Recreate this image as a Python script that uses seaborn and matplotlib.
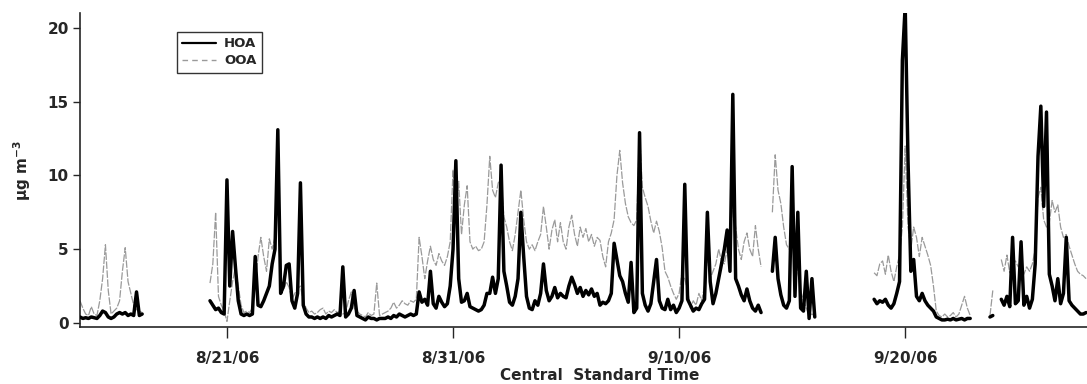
import numpy as np
import pandas as pd
import matplotlib
matplotlib.use("Agg")
import matplotlib.pyplot as plt
from matplotlib.lines import Line2D
import seaborn as sns

nan = np.nan

# 3-hourly organic aerosol factor concentrations (ug m-3), one block per run of data
start_aug14 = "2006-08-14 12:00"
hoa_aug14 = [0.4, 0.3, 0.35, 0.3, 0.4, 0.35, 0.3, 0.5, 0.8, 0.7, 0.4, 0.3,
             0.4, 0.6, 0.7, 0.6, 0.7, 0.5, 0.6, 0.5, 2.1, 0.5, 0.6]
ooa_aug14 = [1.5, 1.0, 0.6, 0.5, 1.1, 0.6, 0.5, 1.5, 3.0, 5.3, 2.2, 0.6,
             0.8, 1.0, 1.5, 3.5, 5.1, 2.8, 2.0, 1.2, 0.9, 0.8, 0.7]

start_aug20 = "2006-08-20 06:00"
hoa_aug20 = [
    1.5, 1.2, 0.9, 1.0, 0.7, 0.6,                # 8/20
    9.7, 2.5, 6.2, 3.8, 1.5, 0.6, 0.5, 0.6,      # 8/21
    0.5, 0.6, 4.5, 1.2, 1.1, 1.5, 2.0, 2.5,      # 8/22
    4.0, 5.0, 13.1, 2.0, 2.5, 3.9, 4.0, 1.5,     # 8/23
    1.0, 2.0, 9.5, 1.2, 0.6, 0.4, 0.4, 0.3,      # 8/24
    0.4, 0.3, 0.4, 0.3, 0.5, 0.4, 0.5, 0.6,      # 8/25
    0.5, 3.8, 0.4, 0.6, 1.0, 2.2, 0.5, 0.4,      # 8/26
    0.3, 0.2, 0.4, 0.3, 0.3, 0.2, 0.3, 0.3,      # 8/27
    0.3, 0.4, 0.3, 0.5, 0.4, 0.6, 0.5, 0.4,      # 8/28
    0.5, 0.6, 0.5, 0.6, 2.1, 1.4, 1.6, 1.2,      # 8/29
    3.5, 1.3, 1.0, 1.8, 1.4, 1.1, 1.3, 2.5,      # 8/30
    5.0, 11.0, 3.0, 1.4, 1.5, 2.0, 1.1, 1.0,     # 8/31
    0.9, 0.8, 0.9, 1.2, 2.0, 2.0, 3.1, 2.0,      # 9/1
    3.0, 10.7, 3.5, 2.5, 1.4, 1.2, 1.8, 3.0,     # 9/2
    7.5, 4.5, 1.8, 1.0, 0.9, 1.5, 1.2, 2.0,      # 9/3
    4.0, 2.2, 1.5, 1.8, 2.4, 1.7, 2.0, 1.8,      # 9/4
    1.7, 2.5, 3.1, 2.6, 2.0, 2.4, 1.8, 2.2,      # 9/5
    1.9, 2.3, 1.8, 2.0, 1.2, 1.4, 1.3, 1.5,      # 9/6
    2.0, 5.4, 4.3, 3.2, 2.8, 2.0, 1.4, 4.1,      # 9/7
    0.7, 1.0, 12.9, 2.0, 1.2, 0.8, 1.3, 2.8,     # 9/8
    4.3, 1.5, 1.0, 0.9, 1.6, 0.9, 1.2, 0.7,      # 9/9
    1.0, 1.5, 9.4, 1.6, 1.2, 0.8, 1.0, 0.9,      # 9/10
    1.3, 1.6, 7.5, 2.8, 1.3, 2.0, 3.0, 4.0,      # 9/11
    5.0, 6.3, 3.5, 15.5, 3.0, 2.5, 1.9, 1.5,     # 9/12
    2.3, 1.5, 1.0, 0.8, 1.2, 0.7, nan, nan,      # 9/13
    nan, 3.5, 5.8, 3.0, 1.9, 1.2, 1.0, 1.5,      # 9/14
    10.6, 1.8, 7.5, 1.0, 0.8, 3.5, 0.3, 3.0,     # 9/15
    0.4,                                         # 9/16
]
ooa_aug20 = [
    2.7, 4.0, 7.5, 1.8, 1.2, 0.8,
    0.1, 1.5, 2.8, 3.8, 2.5, 1.2, 0.7, 0.8,
    0.7, 1.0, 2.5, 4.5, 5.8, 4.5, 3.5, 5.7,
    5.0, 5.8, 8.9, 2.5, 2.2, 2.8, 2.4, 1.6,
    2.0, 2.3, 2.5, 1.5, 1.0, 0.7, 0.8, 0.6,
    0.7, 0.9, 1.0, 0.6, 0.8, 0.7, 0.9, 0.7,
    0.8, 0.6, 0.7, 1.5, 2.1, 1.0, 0.8, 0.6,
    0.5, 0.4, 0.7, 0.5, 0.6, 2.7, 0.5, 0.6,
    0.7, 0.8, 1.0, 1.4, 1.0, 1.2, 1.5, 1.3,
    1.2, 1.5, 1.4, 1.6, 5.8, 4.5, 3.0, 4.2,
    5.2, 4.3, 3.9, 4.7, 4.2, 3.9, 4.5, 5.5,
    10.4, 7.5, 9.6, 6.0, 8.0, 9.3, 5.5, 5.0,
    5.2, 4.9, 5.0, 5.5, 8.0, 11.3, 9.0, 8.5,
    9.5, 9.7, 7.2, 6.5, 5.5, 4.9, 6.0, 7.5,
    9.0, 7.0, 5.5, 5.0, 5.3, 4.9, 5.5, 6.0,
    7.9, 6.5, 5.0, 6.3, 7.0, 5.5, 6.8, 5.5,
    5.0, 6.5, 7.3, 6.0, 5.2, 6.5, 5.8, 6.4,
    5.5, 6.0, 5.2, 5.8, 5.6, 4.5, 3.8, 5.5,
    6.1, 7.0, 10.0, 11.7, 9.5, 8.1, 7.2, 6.8,
    6.6, 7.0, 12.9, 9.2, 8.5, 7.9, 6.9, 6.1,
    6.9, 6.2, 5.1, 3.5, 3.1, 2.5, 2.0, 1.6,
    2.0, 3.4, 3.0, 2.2, 1.0, 1.5, 1.2, 2.0,
    1.5, 2.5, 4.5, 3.0, 3.5, 4.0, 5.0, 4.2,
    4.0, 5.0, 6.0, 7.9, 6.5, 5.0, 4.3, 5.5,
    6.1, 5.0, 4.5, 6.6, 5.0, 3.8, nan, nan,
    nan, 7.5, 11.4, 9.0, 8.1, 6.5, 5.3, 5.0,
    6.0, 5.0, 3.5, 2.2, 1.5, 1.0, 0.5, 0.6,
    0.5,
]

start_sep18 = "2006-09-18 15:00"
hoa_sep18 = [1.6, 1.3, 1.5, 1.4, 1.6, 1.2, 1.0, 1.3, 2.0, 2.8, 17.8, 21.5,
             11.0, 3.5, 4.3, 1.8, 1.5, 2.0, 1.5, 1.2, 1.0, 0.8, 0.4, 0.3,
             0.2, 0.2, 0.25, 0.2, 0.3, 0.2, 0.25, 0.3, 0.2, 0.3, 0.3]
ooa_sep18 = [3.4, 3.2, 4.0, 4.2, 3.3, 4.6, 3.5, 2.8, 3.8, 4.6, 6.5, 12.0,
             6.5, 5.0, 6.5, 5.8, 4.5, 5.8, 5.2, 4.6, 3.9, 2.5, 0.8, 0.5,
             0.4, 0.6, 0.4, 0.5, 0.7, 0.4, 0.6, 1.2, 1.8, 1.0, 0.5]

start_sep23 = "2006-09-23 18:00"
hoa_sep23 = [0.4, 0.5, nan, nan,
             1.6, 1.2, 1.8, 1.1, 5.8, 1.3,
             1.5, 5.5, 1.2, 1.8, 1.0, 1.6, 4.0, 11.3,
             14.7, 7.9, 14.3, 3.3, 2.5, 1.5, 3.0, 1.3,
             2.0, 5.8, 1.5, 1.2, 1.0, 0.8, 0.6, 0.6,
             0.7]
ooa_sep23 = [0.5, 2.2, nan, nan,
             4.3, 3.5, 4.6, 3.4, 4.0, 4.2,
             3.8, 4.1, 3.3, 3.8, 3.5, 4.0, 5.0, 8.5,
             9.2, 7.0, 6.5, 6.8, 8.3, 7.5, 8.0, 6.5,
             5.8, 6.0, 5.2, 4.6, 4.0, 3.5, 3.3, 3.2,
             3.0]

series_names = ["HOA", "OOA"]
tick_dates = ["2006-08-21", "2006-08-31", "2006-09-10", "2006-09-20"]
tick_labels = ["8/21/06", "8/31/06", "9/10/06", "9/20/06"]

blocks = [
    (start_aug14, hoa_aug14, ooa_aug14),
    (start_aug20, hoa_aug20, ooa_aug20),
    (start_sep18, hoa_sep18, ooa_sep18),
    (start_sep23, hoa_sep23, ooa_sep23),
]

# Long-form table; every uninterrupted run of values gets its own unit id
rows = []
run_id = 0
for start, hoa, ooa in blocks:
    times = pd.date_range(start, periods=len(hoa), freq="3h")
    for name, vals in zip(series_names, (hoa, ooa)):
        run_id += 1
        for t, v in zip(times, vals):
            if np.isnan(v):
                run_id += 1
                continue
            rows.append({"time": t, "conc": v, "factor": name, "run": run_id})
df = pd.DataFrame(rows)

sns.set_style("ticks")
plt.rcParams["font.family"] = ["DejaVu Sans"]

fig = plt.figure(figsize=(10.87, 3.84), dpi=100)
ax = fig.add_axes([80 / 1087, 1 - 327.3 / 384, 1 - 80 / 1087, (327.3 - 13.3) / 384])

ooa_color = "#9a9a9a"
sns.lineplot(data=df[df.factor == "OOA"], x="time", y="conc", units="run",
             estimator=None, ax=ax, zorder=2, color=ooa_color, linewidth=0.9,
             linestyle=(0, (6, 1.2)))
sns.lineplot(data=df[df.factor == "HOA"], x="time", y="conc", units="run",
             estimator=None, ax=ax, zorder=3, color="black", linewidth=2.5)

ax.set_xlim(pd.Timestamp("2006-08-14 12:00"), pd.Timestamp("2006-09-28 01:00"))
ax.set_ylim(-0.3, 21.0)
ax.set_yticks([0, 5, 10, 15, 20])
ax.set_xticks(pd.to_datetime(tick_dates))
ax.set_xticklabels(tick_labels)

for lab in ax.get_xticklabels() + ax.get_yticklabels():
    lab.set_fontweight("bold")
    lab.set_fontsize(11)
ax.tick_params(axis="x", length=8, width=1, pad=9, direction="out")
ax.tick_params(axis="y", length=5, width=1, pad=3, direction="out")

sns.despine(ax=ax)
for side in ("left", "bottom"):
    ax.spines[side].set_linewidth(1.2)

ax.set_xlabel("Central  Standard Time", fontsize=11, fontweight="bold")
ax.xaxis.set_label_coords(0.516, -0.13)
ax.set_ylabel("µg m$^{\\mathbf{-3}}$", fontsize=11, fontweight="bold")
ax.yaxis.set_label_coords(-0.047, 0.5)

handles = [Line2D([], [], color="black", linewidth=1.6),
           Line2D([], [], color=ooa_color, linewidth=1.0, linestyle=(0, (4, 3)))]
leg = ax.legend(handles, series_names, loc="upper left",
                bbox_to_anchor=(0.096, 0.94), borderaxespad=0, frameon=True,
                fancybox=False, prop={"weight": "bold", "size": 9.5},
                handlelength=2.6, handletextpad=0.6, borderpad=0.4,
                labelspacing=0.3)
leg.get_frame().set_edgecolor("black")
leg.get_frame().set_linewidth(1.0)

fig.savefig("out.png", dpi=100)
